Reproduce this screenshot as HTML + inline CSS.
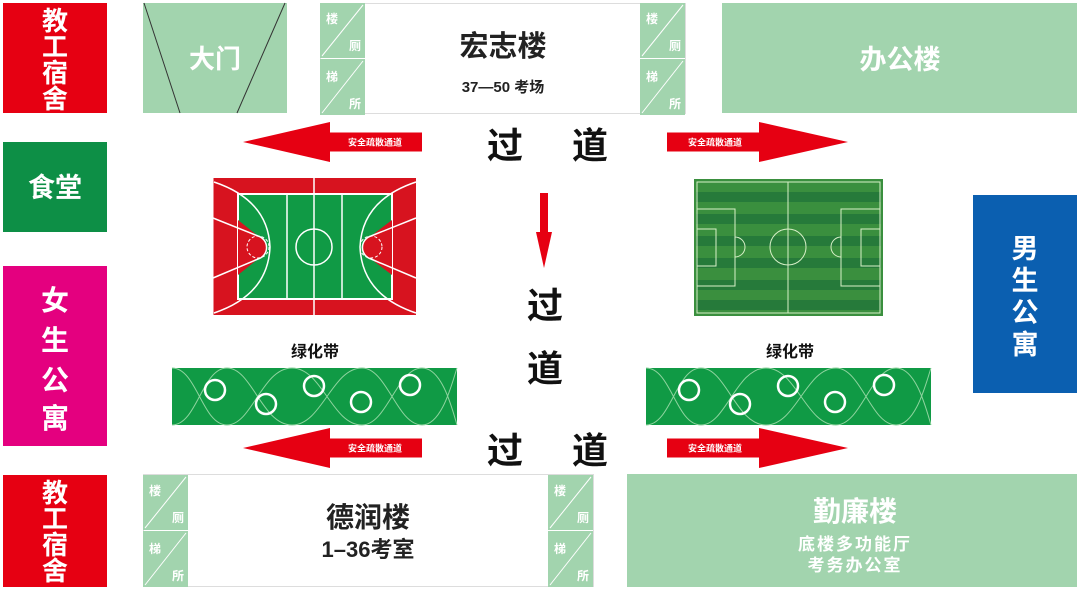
<!DOCTYPE html>
<html><head><meta charset="utf-8"><style>
html,body{margin:0;padding:0;background:#fff}
svg{display:block}
text{font-family:"Liberation Sans","Noto Sans CJK SC",sans-serif;font-weight:bold}
</style></head><body>
<svg width="1080" height="590" viewBox="0 0 1080 590" xmlns="http://www.w3.org/2000/svg">
<defs>
<g id="strip">
<rect x="0" y="0" width="45" height="55" fill="#a2d4ae"/>
<rect x="0" y="56" width="45" height="56" fill="#a2d4ae"/>
<line x1="2" y1="53" x2="43" y2="2" stroke="#fff" stroke-width="1"/>
<line x1="2" y1="110" x2="43" y2="58" stroke="#fff" stroke-width="1"/>
<text x="6" y="20" font-size="12" fill="#fff">楼</text>
<text x="29" y="47" font-size="12" fill="#fff">厕</text>
<text x="6" y="78" font-size="12" fill="#fff">梯</text>
<text x="29" y="105" font-size="12" fill="#fff">所</text>
</g>
<g id="arrowL">
<rect x="85" y="-9.5" width="94" height="19" fill="#e60012"/>
<polygon points="0,0 87,-20 87,20" fill="#e60012"/>
<text x="132" y="3.5" font-size="9" fill="#fff" text-anchor="middle">安全疏散通道</text>
</g>
<g id="arrowR">
<rect x="0" y="-9.5" width="94" height="19" fill="#e60012"/>
<polygon points="181,0 92,-20 92,20" fill="#e60012"/>
<text x="48" y="3.5" font-size="9" fill="#fff" text-anchor="middle">安全疏散通道</text>
</g>
<g id="belt">
<rect x="0" y="0" width="285" height="57" fill="#109a45"/>
<path d="M0,0 C25,0 30,57 55,57 C80,57 90,0 120,0 C150,0 160,57 190,57 C215,57 225,0 250,0 C270,0 280,40 285,57" fill="none" stroke="#8fd49f" stroke-width="1"/>
<path d="M0,57 C25,57 30,0 55,0 C80,0 90,57 120,57 C150,57 160,0 190,0 C215,0 225,57 250,57 C270,57 280,15 285,0" fill="none" stroke="#8fd49f" stroke-width="1"/>
<g fill="none" stroke="#fff" stroke-width="2.5">
<circle cx="43" cy="22" r="10"/><circle cx="94" cy="36" r="10"/><circle cx="142" cy="18" r="10"/><circle cx="189" cy="34" r="10"/><circle cx="238" cy="17" r="10"/>
</g>
</g>
</defs>

<rect x="3" y="3" width="104" height="110" fill="#e60012"/>
<g font-size="26" fill="#fff" text-anchor="middle">
<text x="55" y="30">教</text><text x="55" y="56">工</text><text x="55" y="82">宿</text><text x="55" y="108">舍</text>
</g>
<rect x="3" y="142" width="104" height="90" fill="#0d8f46"/>
<text x="55" y="197" font-size="27" fill="#fff" text-anchor="middle">食堂</text>
<rect x="3" y="266" width="104" height="180" fill="#e4007f"/>
<g font-size="28" fill="#fff" text-anchor="middle">
<text x="55" y="310">女</text><text x="55" y="350">生</text><text x="55" y="390">公</text><text x="55" y="428">寓</text>
</g>
<rect x="3" y="475" width="104" height="112" fill="#e60012"/>
<g font-size="26" fill="#fff" text-anchor="middle">
<text x="55" y="502">教</text><text x="55" y="528">工</text><text x="55" y="554">宿</text><text x="55" y="580">舍</text>
</g>

<rect x="143" y="3" width="144" height="110" fill="#a2d4ae"/>
<line x1="144" y1="3" x2="180" y2="113" stroke="#333" stroke-width="1"/>
<line x1="285" y1="3" x2="237" y2="113" stroke="#333" stroke-width="1"/>
<text x="215" y="68" font-size="26" fill="#fff" text-anchor="middle">大门</text>

<rect x="320.5" y="3.5" width="365" height="110" fill="#fff" stroke="#ddd"/>
<use href="#strip" x="320" y="3"/>
<use href="#strip" x="640" y="3"/>
<text x="503" y="56" font-size="29" fill="#222" text-anchor="middle">宏志楼</text>
<text x="503" y="92" font-size="15" fill="#222" text-anchor="middle">37—50 考场</text>

<rect x="722" y="3" width="355" height="110" fill="#a2d4ae"/>
<text x="900" y="69" font-size="27" fill="#fff" text-anchor="middle">办公楼</text>

<use href="#arrowL" x="243" y="142"/>
<use href="#arrowR" x="667" y="142"/>
<text x="505" y="158" font-size="36" fill="#111" text-anchor="middle">过</text>
<text x="590" y="158" font-size="36" fill="#111" text-anchor="middle">道</text>

<rect x="540" y="193" width="8" height="40" fill="#e60012"/>
<polygon points="536,232 552,232 544,268" fill="#e60012"/>

<text x="545" y="318" font-size="36" fill="#111" text-anchor="middle">过</text>
<text x="545" y="381" font-size="36" fill="#111" text-anchor="middle">道</text>

<g>
<rect x="213" y="178" width="203" height="137" fill="#d7131f"/>
<rect x="238" y="194" width="154" height="105" fill="#109a45" stroke="#fff" stroke-width="2"/>
<path d="M238,220 L258,236 A12,12 0 0 1 258,259 L238,275 Z" fill="#d7131f"/>
<path d="M392,220 L371,236 A12,12 0 0 0 371,259 L392,275 Z" fill="#d7131f"/>
<line x1="314" y1="178" x2="314" y2="315" stroke="#fff" stroke-width="1.5"/>
<line x1="287" y1="194" x2="287" y2="299" stroke="#fff" stroke-width="1.5"/>
<line x1="342" y1="194" x2="342" y2="299" stroke="#fff" stroke-width="1.5"/>
<circle cx="314" cy="247" r="18" fill="none" stroke="#fff" stroke-width="1.5"/>
<path d="M214,182 Q268,200 270,247 Q268,295 214,313" fill="none" stroke="#fff" stroke-width="1.5"/>
<path d="M416,182 Q362,200 360,247 Q362,295 416,313" fill="none" stroke="#fff" stroke-width="1.5"/>
<path d="M213,218 L258,236 A12,12 0 0 1 258,259 L213,278" fill="none" stroke="#fff" stroke-width="1.5"/>
<path d="M416,218 L371,236 A12,12 0 0 0 371,259 L416,278" fill="none" stroke="#fff" stroke-width="1.5"/>
<circle cx="258" cy="247" r="11" fill="none" stroke="#fff" stroke-width="1" stroke-dasharray="3,2"/>
<circle cx="371" cy="247" r="11" fill="none" stroke="#fff" stroke-width="1" stroke-dasharray="3,2"/>
<line x1="213" y1="178" x2="213" y2="315" stroke="#fff" stroke-width="1"/>
</g>

<g>
<rect x="694" y="179" width="189" height="137" fill="#3a8f3e"/>
<g fill="#267a3a">
<rect x="696" y="192" width="185" height="10"/><rect x="696" y="214" width="185" height="10"/><rect x="696" y="236" width="185" height="10"/><rect x="696" y="258" width="185" height="10"/><rect x="696" y="280" width="185" height="10"/><rect x="696" y="300" width="185" height="10"/>
</g>
<g fill="none" stroke="#d8f0c8" stroke-width="1">
<rect x="697" y="182" width="183" height="131"/>
<line x1="788" y1="182" x2="788" y2="313"/>
<circle cx="788" cy="247" r="18"/>
<rect x="697" y="209" width="38" height="77"/>
<rect x="697" y="229" width="19" height="37"/>
<path d="M735,237 A10,10 0 0 1 735,257"/>
<rect x="841" y="209" width="39" height="77"/>
<rect x="861" y="229" width="19" height="37"/>
<path d="M841,237 A10,10 0 0 0 841,257"/>
</g>
</g>

<text x="315" y="357" font-size="16" fill="#111" text-anchor="middle">绿化带</text>
<text x="790" y="357" font-size="16" fill="#111" text-anchor="middle">绿化带</text>
<use href="#belt" x="172" y="368"/>
<use href="#belt" x="646" y="368"/>

<use href="#arrowL" x="243" y="448"/>
<use href="#arrowR" x="667" y="448"/>
<text x="505" y="463" font-size="36" fill="#111" text-anchor="middle">过</text>
<text x="590" y="463" font-size="36" fill="#111" text-anchor="middle">道</text>

<rect x="973" y="195" width="104" height="198" fill="#0b5fb0"/>
<g font-size="27" fill="#fff" text-anchor="middle">
<text x="1025" y="258">男</text><text x="1025" y="290">生</text><text x="1025" y="322">公</text><text x="1025" y="354">寓</text>
</g>

<rect x="143.5" y="474.5" width="450" height="112" fill="#fff" stroke="#ddd"/>
<use href="#strip" x="143" y="475"/>
<use href="#strip" x="548" y="475"/>
<text x="368" y="527" font-size="28" fill="#222" text-anchor="middle">德润楼</text>
<text x="368" y="557" font-size="22" fill="#222" text-anchor="middle">1–36考室</text>

<rect x="627" y="474" width="450" height="113" fill="#a2d4ae"/>
<text x="855" y="521" font-size="28" fill="#fff" text-anchor="middle">勤廉楼</text>
<text x="855" y="550" font-size="17" fill="#fff" text-anchor="middle" letter-spacing="2">底楼多功能厅</text>
<text x="855" y="571" font-size="17" fill="#fff" text-anchor="middle" letter-spacing="2">考务办公室</text>
</svg>
</body></html>
